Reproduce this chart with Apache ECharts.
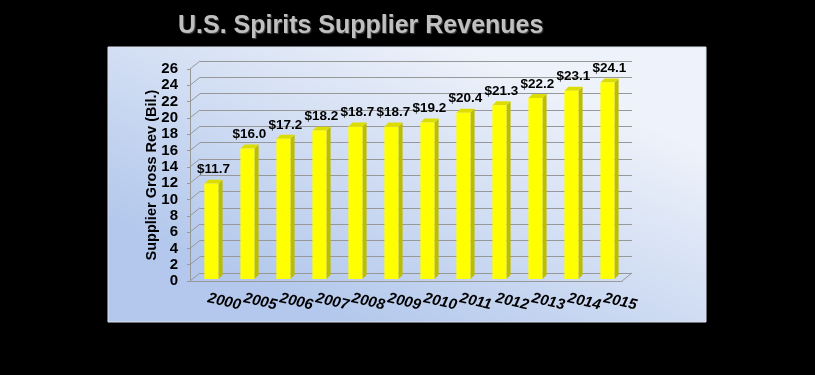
<!DOCTYPE html>
<html>
<head>
<meta charset="utf-8">
<script src="https://cdn.jsdelivr.net/npm/echarts@6/dist/echarts.min.js"></script>
<style>
html,body{margin:0;padding:0;background:#000;}
#chart{width:815px;height:375px;}
</style>
</head>
<body>
<div id="chart"></div>
<script>
const categories = ['2000','2005','2006','2007','2008','2009','2010','2011','2012','2013','2014','2015'];
const revenues = [11.7, 16.0, 17.2, 18.2, 18.7, 18.7, 19.2, 20.4, 21.3, 22.2, 23.1, 24.1];
const yTicks = [0, 2, 4, 6, 8, 10, 12, 14, 16, 18, 20, 22, 24, 26];
const titleText = 'U.S. Spirits Supplier Revenues';
const yAxisName = 'Supplier Gross Rev (Bil.)';

const FONT = 'Liberation Sans, Arial, sans-serif';
const DEPTH_X = 10, DEPTH_Y = 8;
const GRID_LEFT = 190, GRID_TOP = 69, GRID_W = 432, GRID_H = 212;
const LINE = '#989898';

const chart = echarts.init(document.getElementById('chart'));

const option = {
  backgroundColor: '#000',
  animation: false,
  title: {
    text: titleText,
    left: 173,
    top: 9,
    textStyle: {
      color: '#c0c0c0', fontSize: 25, fontWeight: 'bold', fontFamily: FONT,
      textShadowColor: 'rgba(80,80,80,0.9)', textShadowOffsetX: 1, textShadowOffsetY: 1, textShadowBlur: 1
    }
  },
  graphic: [{
    type: 'rect', z: -10,
    shape: {x: 108, y: 47, width: 598, height: 275},
    style: {
      fill: new echarts.graphic.LinearGradient(0.6, 0, 0.4, 1, [
        {offset: 0, color: '#eef2fa'},
        {offset: 1, color: '#b3c8ec'}
      ]),
      stroke: '#dde3ee', lineWidth: 1
    }
  }],
  grid: [
    {left: GRID_LEFT + DEPTH_X, top: GRID_TOP - DEPTH_Y, width: GRID_W, height: GRID_H},
    {left: GRID_LEFT, top: GRID_TOP, width: GRID_W, height: GRID_H}
  ],
  xAxis: [
    {gridIndex: 0, type: 'category', data: categories, show: false},
    {
      gridIndex: 1, type: 'category', data: categories,
      axisLine: {lineStyle: {color: LINE}},
      axisTick: {length: 5, lineStyle: {color: LINE}},
      axisLabel: {
        interval: 0, rotate: -13, margin: 17, color: '#000',
        fontFamily: FONT, fontWeight: 'bold', fontStyle: 'italic', fontSize: 15
      }
    }
  ],
  yAxis: [
    {
      gridIndex: 0, type: 'value', min: 0, max: 26, interval: 2,
      axisLabel: {show: false}, axisLine: {show: false}, axisTick: {show: false},
      splitLine: {lineStyle: {color: LINE, width: 1}}
    },
    {
      gridIndex: 1, type: 'value', min: 0, max: 26, interval: 2,
      name: yAxisName, nameLocation: 'middle', nameGap: 31, nameMoveOverlap: false,
      nameTextStyle: {color: '#000', fontFamily: FONT, fontWeight: 'bold', fontSize: 14.5},
      axisLine: {show: true, lineStyle: {color: LINE}},
      axisTick: {show: true, length: 3, lineStyle: {color: LINE}},
      splitLine: {show: false},
      axisLabel: {margin: 12, color: '#000', fontFamily: FONT, fontWeight: 'bold', fontSize: 15}
    }
  ],
  series: [
    {
      type: 'custom', xAxisIndex: 1, yAxisIndex: 1, z: 1,
      data: yTicks.map(v => [0, v]),
      renderItem: function (params, api) {
        const v = api.value(1);
        const p = api.coord([0, v]);
        const band = api.size([1, 0])[0];
        const x0 = p[0] - band / 2;
        const children = [{
          type: 'line',
          shape: {x1: x0, y1: p[1], x2: x0 + DEPTH_X, y2: p[1] - DEPTH_Y},
          style: {stroke: LINE, lineWidth: 1}
        }];
        if (v === 0) {
          const xr = x0 + band * categories.length;
          children.push({
            type: 'line',
            shape: {x1: xr, y1: p[1], x2: xr + DEPTH_X, y2: p[1] - DEPTH_Y},
            style: {stroke: LINE, lineWidth: 1}
          });
        }
        return {type: 'group', children: children};
      }
    },
    {
      type: 'custom', xAxisIndex: 1, yAxisIndex: 1, z: 5,
      data: revenues.map((v, i) => [i, v]),
      renderItem: function (params, api) {
        const i = api.value(0), v = api.value(1);
        const top = api.coord([i, v]);
        const base = api.coord([i, 0]);
        const band = api.size([1, 0])[0];
        const w = band * 0.39;
        const dx = band * 0.115, dy = band * 0.11;
        const lift = 2;
        const fx = top[0] - band * 0.1;
        const ty = top[1] - lift, by = base[1] - lift;
        return {
          type: 'group',
          children: [
            {type: 'polygon', shape: {points: [[fx + w, ty], [fx + w + dx, ty - dy], [fx + w + dx, by - dy], [fx + w, by]]},
              style: {fill: '#bcbc00'}},
            {type: 'polygon', shape: {points: [[fx, ty], [fx + dx, ty - dy], [fx + w + dx, ty - dy], [fx + w, ty]]},
              style: {fill: '#dcdc00'}},
            {type: 'rect', shape: {x: fx, y: ty, width: w, height: by - ty},
              style: {fill: '#ffff00'}},
            {type: 'text', x: fx + (w + dx) / 2, y: ty - dy - 3,
              style: {text: '$' + v.toFixed(1), align: 'center', verticalAlign: 'bottom',
                fill: '#000', font: 'bold 13.5px ' + FONT}}
          ]
        };
      }
    }
  ]
};

chart.setOption(option);
</script>
</body>
</html>
